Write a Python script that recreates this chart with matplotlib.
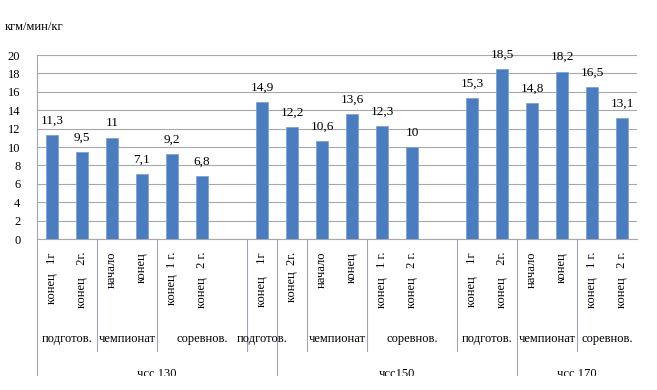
import numpy as np
import matplotlib
matplotlib.use("Agg")
import matplotlib.pyplot as plt
from matplotlib.patches import Rectangle

plt.rcParams['font.family'] = ['Liberation Serif', 'DejaVu Serif']

# значения по слотам (None = пустой слот)
values = [11.3, 9.5, 11, 7.1, 9.2, 6.8, None,
          14.9, 12.2, 10.6, 13.6, 12.3, 10, None,
          15.3, 18.5, 14.8, 18.2, 16.5, 13.1]

cat_labels = ["конец   1г", "конец    2г.", "начало", "конец", "конец  1 г.", "конец   2 г.", "",
              "конец    1г", "конец  2г.", "начало", "конец", "конец   1 г.", "конец   2 г.", "",
              "конец    1г", "конец    2г.", "начало", "конец", "конец   1 г.", "конец   2 г."]

# (подпись, первый слот, последний слот)
stage_groups = [("подготов.", 0, 1), ("чемпионат", 2, 3), ("соревнов.", 4, 6),
                ("подготов.", 7, 7), ("чемпионат", 9, 10), ("соревнов.", 11, 13),
                ("подготов.", 14, 15), ("чемпионат", 16, 17), ("соревнов.", 18, 19)]
hr_groups = [("чсс 130", 0, 7), ("чсс150", 8, 15), ("чсс 170", 16, 19)]
stage_bounds = [1.5, 3.5, 6.5, 8.5, 10.5, 13.5, 17.5]
hr_bounds = [-0.5, 7.5, 15.5]

y_label = "кгм/мин/кг"

W, H = 657, 390
fig = plt.figure(figsize=(W / 100, H / 100), dpi=100)
ax = fig.add_axes([37 / W, 1 - 239 / H, 600 / W, 184 / H])

x = np.arange(len(values))
heights = [np.nan if v is None else v for v in values]
bars = ax.bar(x, heights, width=0.42, color='#4a7cc0', edgecolor='#7ea3d6', linewidth=0.6, zorder=3)

for xi, v in zip(x, values):
    if v is None:
        continue
    ax.annotate(f"{v:g}".replace('.', ','), (xi, v), xytext=(0, 6), textcoords='offset points',
                ha='center', va='bottom', fontsize=9.5)

ax.set_xlim(-0.5, len(values) - 0.5)
ax.set_ylim(0, 20)
ax.set_yticks(np.arange(0, 21, 2))
ax.set_xticks([])
ax.tick_params(axis='y', length=0, pad=12, labelsize=9)
ax.grid(axis='y', color='#a8a8a8', linewidth=0.8, zorder=0)
for s in ['top', 'right', 'left']:
    ax.spines[s].set_visible(False)
ax.spines['bottom'].set_color('#a8a8a8')
ax.spines['bottom'].set_linewidth(0.8)

# многоуровневая ось категорий
px = 1 / 184.0
tr = ax.get_xaxis_transform()
for xi, lab in zip(x, cat_labels):
    if lab:
        ax.text(xi, -13 * px, lab, rotation=90, ha='center', va='top', fontsize=9,
                transform=tr, clip_on=False)
for lab, a, b in stage_groups:
    ax.text((a + b) / 2, -100 * px, lab, ha='center', va='center', fontsize=9,
            transform=tr, clip_on=False)
for lab, a, b in hr_groups:
    ax.text((a + b) / 2, -135 * px, lab, ha='center', va='center', fontsize=9,
            transform=tr, clip_on=False)
for bx in stage_bounds:
    ax.plot([bx, bx], [0, -112 * px], color='#a0a4b8', linewidth=0.8, transform=tr, clip_on=False)
for bx in hr_bounds:
    ax.plot([bx, bx], [0 if bx > 0 else 1, -150 * px], color='#a0a4b8', linewidth=0.8,
            transform=tr, clip_on=False)

fig.text(5 / W, 1 - 27 / H, y_label, ha='left', va='center', fontsize=9)

# нижний край исходной картинки обрезан
fig.patches.append(Rectangle((0, 0), 1, 1 - 376 / H, transform=fig.transFigure,
                             facecolor='white', edgecolor='none', zorder=10))

fig.savefig("out.png", dpi=100)
